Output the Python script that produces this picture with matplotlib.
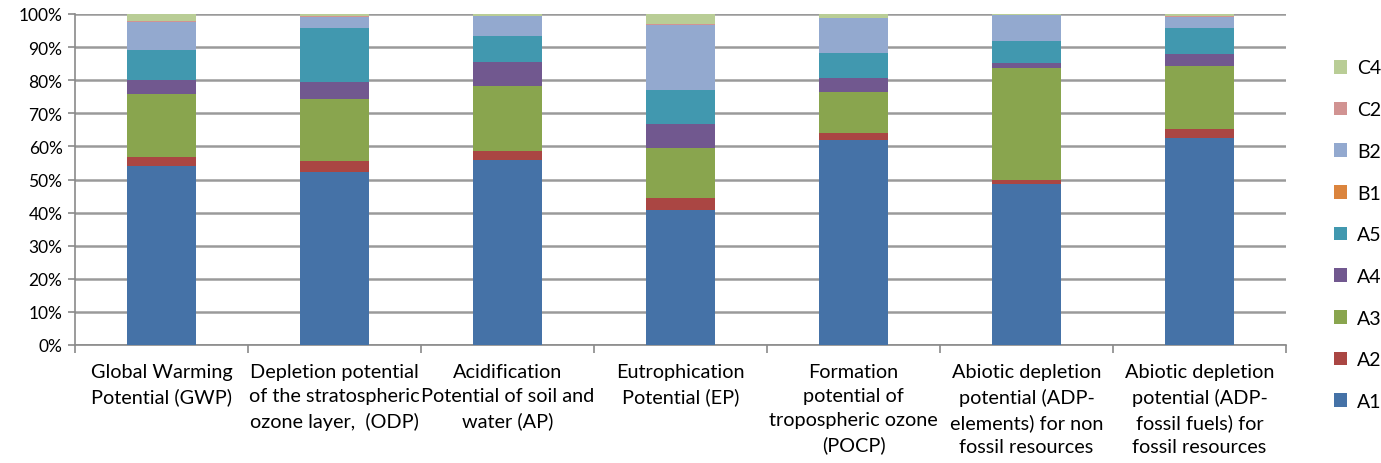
import matplotlib
matplotlib.use("Agg")
import matplotlib.pyplot as plt
import numpy as np
from matplotlib.ticker import FixedLocator, PercentFormatter
from matplotlib.patches import Patch

categories = [
    "Global Warming\nPotential (GWP)",
    "Depletion potential\nof the stratospheric\nozone layer,  (ODP)",
    "Acidification\nPotential of soil and\nwater (AP)",
    "Eutrophication\nPotential (EP)",
    "Formation\npotential of\ntropospheric ozone\n(POCP)",
    "Abiotic depletion\npotential (ADP-\nelements) for non\nfossil resources",
    "Abiotic depletion\npotential (ADP-\nfossil fuels) for\nfossil resources",
]
series_names = ["A1", "A2", "A3", "A4", "A5", "B1", "B2", "C2", "C4"]
A1 = [54.0, 52.2, 56.0, 40.7, 61.8, 48.7, 62.6]
A2 = [2.9, 3.3, 2.7, 3.7, 2.2, 1.1, 2.7]
A3 = [18.8, 18.9, 19.5, 15.2, 12.4, 33.9, 18.9]
A4 = [4.4, 5.1, 7.2, 7.3, 4.2, 1.4, 3.8]
A5 = [9.1, 16.2, 8.0, 10.2, 7.7, 6.8, 7.7]
B1 = [0.0, 0.0, 0.0, 0.0, 0.0, 0.0, 0.0]
B2 = [8.5, 3.5, 5.9, 19.7, 10.5, 7.8, 3.5]
C2 = [0.05, 0.05, 0.05, 0.05, 0.1, 0.05, 0.05]
C4 = [2.25, 0.75, 0.65, 3.15, 1.1, 0.25, 0.75]
series = [A1, A2, A3, A4, A5, B1, B2, C2, C4]
colors = ["#4572A7", "#AA4643", "#89A54E", "#71588F", "#4198AF",
          "#DB843D", "#93A9CF", "#D19392", "#B9CD96"]

plt.rcParams['font.family'] = ['Lato', 'DejaVu Sans']
fig = plt.figure(figsize=(13.81, 4.64), dpi=100)
ax = fig.add_axes([75/1381, 1-346/464, (1286-75)/1381, (346-15)/464])

x = np.arange(len(categories))
bottom = np.zeros(len(categories))
for name, vals, c in zip(series_names, series, colors):
    v = np.array(vals)
    ax.bar(x, v, bottom=bottom, width=0.4, color=c, edgecolor="none",
           zorder=3, label=name)
    bottom += v

ax.set_xlim(-0.5, len(categories) - 0.5)
ax.set_ylim(0, 100)
ax.yaxis.set_major_locator(FixedLocator(np.arange(0, 101, 10)))
ax.yaxis.set_major_formatter(PercentFormatter(decimals=0))
ax.grid(axis="y", color="#9a9a9a", linewidth=1.8, zorder=0)
ax.set_axisbelow(True)
for s in ["top", "right"]:
    ax.spines[s].set_visible(False)
ax.spines["left"].set_color("#8a8a8a")
ax.spines["bottom"].set_color("#8a8a8a")
ax.spines["left"].set_linewidth(1.2)
ax.spines["bottom"].set_linewidth(1.2)

ax.set_xticks(x)
ax.set_xticklabels(categories, fontsize=14.3, linespacing=1.5, va="top")
ax.tick_params(axis="x", which="major", length=0, pad=13)
ax.set_xticks(np.arange(-0.5, len(categories)), minor=True)
ax.tick_params(axis="x", which="minor", length=6, color="#8a8a8a", width=1.2)
ax.tick_params(axis="y", length=5, color="#8a8a8a", width=1.2, labelsize=12.5, pad=4)

handles = [Patch(facecolor=c, edgecolor="none") for c in colors][::-1]
labels = series_names[::-1]
fig.legend(handles, labels, loc="upper left", bbox_to_anchor=(1316/1381, 1-43/464),
           frameon=False, fontsize=14, labelspacing=1.27, handlelength=0.7,
           handleheight=0.7, handletextpad=0.5)

fig.savefig("out.png", dpi=100)
